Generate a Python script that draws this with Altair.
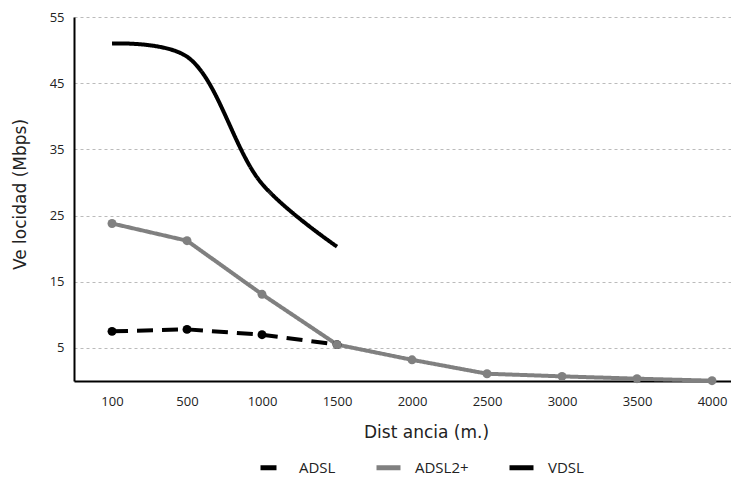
import altair as alt
import pandas as pd

distances = ["100", "500", "1000", "1500", "2000", "2500", "3000", "3500", "4000"]
adsl = [7.5, 7.8, 7.0, 5.5]
adsl2 = [23.8, 21.2, 13.1, 5.5, 3.2, 1.1, 0.7, 0.35, 0.05]
vdsl = [51.0, 49.0, 29.8, 20.3]

series = ["ADSL", "ADSL2+", "VDSL"]
colors = ["#000000", "#808080", "#000000"]
dashes = [[16, 9], [1, 0], [1, 0]]

rows = []
for d, v in zip(distances, adsl):
    rows.append({"dist": d, "vel": v, "serie": "ADSL"})
for d, v in zip(distances, adsl2):
    rows.append({"dist": d, "vel": v, "serie": "ADSL2+"})
df_pts = pd.DataFrame(rows)
df_v = pd.DataFrame({"dist": distances[:len(vdsl)], "vel": vdsl, "serie": "VDSL"})

font = "Open Sans"
tfont = "DejaVu Sans"

x = alt.X("dist:O", sort=distances,
          scale=alt.Scale(type="point", padding=0.38, align=0.667),
          axis=alt.Axis(title="Dist ancia (m.)", labelAngle=0, ticks=False,
                        domainColor="#000000", domainWidth=2,
                        labelPadding=14, titlePadding=16, titleX=352,
                        labelFontSize=13, titleFontSize=17,
                        labelColor="#222222", titleColor="#222222",
                        labelFont=font, titleFont=tfont, titleFontWeight="normal"))
y = alt.Y("vel:Q",
          scale=alt.Scale(domain=[0, 55], nice=False),
          axis=alt.Axis(title="Ve locidad (Mbps)", values=[5, 15, 25, 35, 45, 55],
                        ticks=False, domainColor="#000000", domainWidth=2,
                        grid=True, gridColor="#bbbbbb", gridDash=[3, 3], gridWidth=1,
                        labelPadding=10, titlePadding=20, titleY=177,
                        labelFontSize=13, titleFontSize=17,
                        labelColor="#222222", titleColor="#222222",
                        labelFont=font, titleFont=tfont, titleFontWeight="normal"))
leg = alt.Legend(title=None, orient="none", direction="horizontal",
                 legendX=184, legendY=436,
                 symbolType="stroke", symbolSize=576,
                 symbolStrokeWidth=5, labelFontSize=15,
                 labelFont=font, labelColor="#222222",
                 columnPadding=30, labelOffset=12)
color = alt.Color("serie:N", scale=alt.Scale(domain=series, range=colors), legend=leg)
dash = alt.StrokeDash("serie:N", scale=alt.Scale(domain=series, range=dashes), legend=leg)

lines_pts = alt.Chart(df_pts).mark_line(
    strokeWidth=4, point=alt.OverlayMarkDef(filled=True, size=80, opacity=1)
).encode(x=x, y=y, color=color, strokeDash=dash, order=alt.Order("serie:N"))

line_v = alt.Chart(df_v).mark_line(strokeWidth=4, interpolate="catmull-rom").encode(
    x=x, y=y, color=color, strokeDash=dash)

chart = alt.layer(line_v, lines_pts).properties(
    width=657, height=364,
    autosize=alt.AutoSizeParams(type="none"),
    padding={"left": 66, "top": 9, "right": 0, "bottom": 96},
    background="#ffffff",
).configure_view(stroke=None)

chart.save("out.html", embed_options={"renderer": "svg", "actions": False})
